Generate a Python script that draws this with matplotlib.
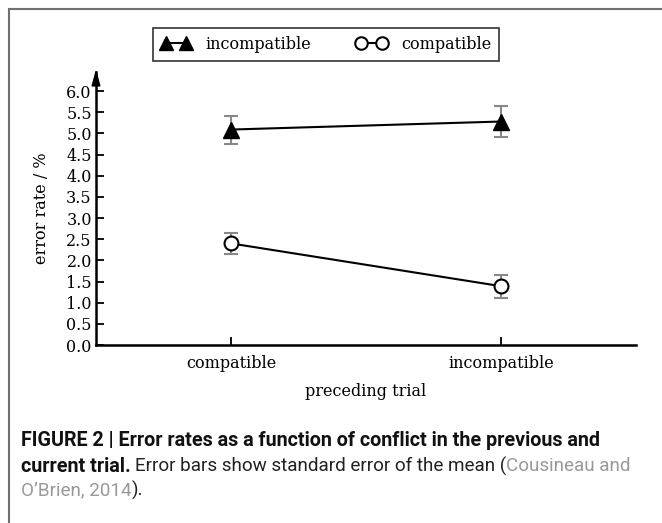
import matplotlib
matplotlib.use("Agg")
import matplotlib.pyplot as plt
from matplotlib.lines import Line2D

categories = ["compatible", "incompatible"]
incompatible_vals = [5.09, 5.28]
incompatible_err = [0.33, 0.36]
compatible_vals = [2.40, 1.39]
compatible_err = [0.24, 0.27]
yticks = [0.0, 0.5, 1.0, 1.5, 2.0, 2.5, 3.0, 3.5, 4.0, 4.5, 5.0, 5.5, 6.0]

W, H = 662, 523
fig = plt.figure(figsize=(W / 100, H / 100), dpi=100)
serif = "DejaVu Serif"

ax = fig.add_axes([96 / W, (H - 345) / H, (636 - 96) / W, (345 - 72) / H])
x = list(range(len(categories)))

ax.errorbar(x, incompatible_vals, yerr=incompatible_err, color="black", lw=1.5,
            marker="^", ms=11, mfc="black", mec="black", ecolor="#888888",
            elinewidth=1.5, capsize=5, capthick=1.5, zorder=3)
ax.errorbar(x, compatible_vals, yerr=compatible_err, color="black", lw=1.5,
            marker="o", ms=10, mfc="white", mec="black", mew=1.5, ecolor="#888888",
            elinewidth=1.5, capsize=5, capthick=1.5, zorder=3)

ax.set_xlim(-0.5, 1.5)
ax.set_ylim(0, 6.45)
ax.set_xticks(x)
ax.set_xticklabels(categories, fontsize=11.5, family=serif)
ax.set_yticks(yticks)
ax.set_yticklabels([f"{v:.1f}" for v in yticks], fontsize=11.5, family=serif)
ax.tick_params(direction="in", length=6, width=1.3, pad=3)
ax.tick_params(axis="x", pad=7)
for s in ["top", "right"]:
    ax.spines[s].set_visible(False)
for s in ["left", "bottom"]:
    ax.spines[s].set_linewidth(1.8)
ax.set_ylabel("error rate / %", fontsize=11.5, family=serif, labelpad=12)
ax.set_xlabel("preceding trial", fontsize=11.5, family=serif, labelpad=8)
# arrow on y-axis
ax.annotate("", xy=(0, 1.01), xytext=(0, 0.96), xycoords="axes fraction",
            arrowprops=dict(arrowstyle="-|>,head_length=0.8,head_width=0.22",
                            color="black", lw=1.2, mutation_scale=12,
                            shrinkA=0, shrinkB=0))

handles = [Line2D([], [], color="black", marker="^", ms=10, mfc="black", lw=1.5),
           Line2D([], [], color="black", marker="o", ms=9, mfc="white", mew=1.5, lw=1.5)]
leg = fig.legend(handles, ["incompatible", "compatible"], loc="center",
                 bbox_to_anchor=(326 / W, 1 - 44.5 / H), ncol=2, frameon=True,
                 fancybox=False, edgecolor="black", prop={"family": serif, "size": 11.5},
                 numpoints=2, handlelength=1.9, columnspacing=2.8, handletextpad=0.9,
                 borderpad=0.5, borderaxespad=0)
leg.get_frame().set_linewidth(1.2)

# frame lines (left and top)
fig.add_artist(Line2D([8.5 / W, 8.5 / W], [0, 1 - 8.5 / H], transform=fig.transFigure,
                      color="#6f6f6f", lw=1.5))
fig.add_artist(Line2D([8.5 / W, 1], [1 - 8.5 / H, 1 - 8.5 / H], transform=fig.transFigure,
                      color="#6f6f6f", lw=1.5))

cap_font = ["Roboto", "DejaVu Sans"]
fs = 13.6
fsb = 14.2
fig.text(21 / W, 1 - 441 / H, "FIGURE 2 | Error rates as a function of conflict in the previous and",
         family=cap_font, weight="bold", fontsize=fsb, va="center", color="#111111")
t1 = fig.text(21 / W, 1 - 466 / H, "current trial.", family=cap_font, weight="bold",
              fontsize=fsb, va="center", color="#111111")
fig.canvas.draw()
r = fig.canvas.get_renderer()
bb = t1.get_window_extent(r)
t2 = fig.text((bb.x1 + 4) / W, 1 - 466 / H, "Error bars show standard error of the mean (",
              family=cap_font, fontsize=fs, va="center", color="#222222")
bb2 = t2.get_window_extent(r)
fig.text(bb2.x1 / W, 1 - 466 / H, "Cousineau and", family=cap_font, fontsize=fs,
         va="center", color="#999999")
t3 = fig.text(21 / W, 1 - 490 / H, "O\u2019Brien, 2014", family=cap_font, fontsize=fs,
              va="center", color="#999999")
bb3 = t3.get_window_extent(r)
fig.text(bb3.x1 / W, 1 - 490 / H, ").", family=cap_font, fontsize=fs, va="center",
         color="#222222")

fig.savefig("out.png", dpi=100)
